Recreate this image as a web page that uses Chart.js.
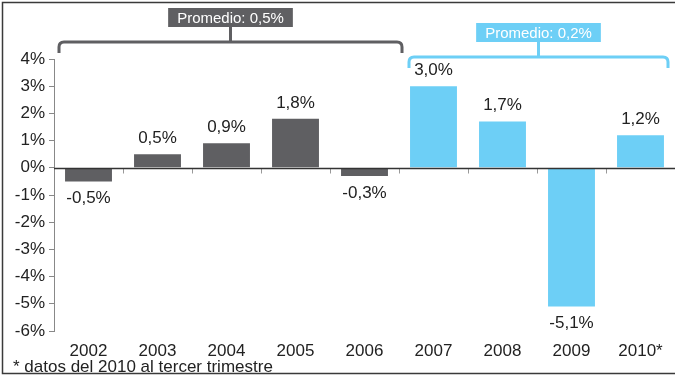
<!DOCTYPE html>
<html>
<head>
<meta charset="utf-8">
<script src="https://cdn.jsdelivr.net/npm/chart.js@4"></script>
<style>
  html, body { margin: 0; padding: 0; background: #fff; }
  #wrap { position: relative; width: 675px; height: 377px; }
</style>
</head>
<body>
<div id="wrap"><canvas id="myChart" width="675" height="377"></canvas></div>
<script>
const years = ["2002", "2003", "2004", "2005", "2006", "2007", "2008", "2009", "2010*"];
const growth = [-0.5, 0.5, 0.9, 1.8, -0.3, 3.0, 1.7, -5.1, 1.2];
const barColors = ["#5f5f62", "#5f5f62", "#5f5f62", "#5f5f62", "#5f5f62",
                   "#6dcff6", "#6dcff6", "#6dcff6", "#6dcff6"];
const averages = [
  { text: "Promedio: 0,5%", from: 0, to: 4, color: "#5f5f62" },
  { text: "Promedio: 0,2%", from: 5, to: 8, color: "#6dcff6" }
];
const footnote = "* datos del 2010 al tercer trimestre";

const FONT = "Liberation Sans, Arial, sans-serif";
const fmt = v => v.toFixed(1).replace(".", ",") + "%";

// frame, zero line with its little ticks, and the footnote
const framePlugin = {
  id: "frame",
  beforeDraw(chart) {
    const ctx = chart.ctx;
    ctx.save();
    ctx.strokeStyle = "#3a3a3a";
    ctx.lineWidth = 1.5;
    ctx.beginPath();
    ctx.moveTo(675, 2.5); ctx.lineTo(2.5, 2.5); ctx.lineTo(2.5, 373.5); ctx.lineTo(675, 373.5);
    ctx.stroke();
    ctx.restore();
  },
  afterDatasetsDraw(chart) {
    const ctx = chart.ctx;
    const x = chart.scales.x, y = chart.scales.y;
    const y0 = Math.round(y.getPixelForValue(0)) + 0.5;
    ctx.save();
    ctx.strokeStyle = "#999";
    ctx.lineWidth = 1;
    for (let i = 1; i < years.length; i++) {
      const bx = Math.round((x.getPixelForValue(i - 1) + x.getPixelForValue(i)) / 2) + 0.5;
      ctx.beginPath(); ctx.moveTo(bx, y0); ctx.lineTo(bx, y0 + 5); ctx.stroke();
    }
    ctx.strokeStyle = "#333";
    ctx.lineWidth = 1.5;
    ctx.beginPath(); ctx.moveTo(chart.chartArea.left, y0); ctx.lineTo(675, y0); ctx.stroke();

    ctx.fillStyle = "#222";
    ctx.font = "17px " + FONT;
    ctx.textBaseline = "alphabetic";
    ctx.textAlign = "left";
    ctx.fillText(footnote, 13, 372);
    ctx.restore();
  }
};

// value labels above / below each bar
const valueLabels = {
  id: "valueLabels",
  afterDatasetsDraw(chart) {
    const ctx = chart.ctx;
    const meta = chart.getDatasetMeta(0);
    ctx.save();
    ctx.fillStyle = "#222";
    ctx.font = "17px " + FONT;
    ctx.textAlign = "center";
    ctx.textBaseline = "middle";
    meta.data.forEach((bar, i) => {
      const v = growth[i];
      const ty = v >= 0 ? bar.y - 16 : bar.y + 17;
      ctx.fillText(fmt(v), bar.x, ty);
    });
    ctx.restore();
  }
};

// brackets with the average boxes on top
const brackets = {
  id: "brackets",
  afterDraw(chart) {
    const ctx = chart.ctx;
    const x = chart.scales.x;
    const step = x.getPixelForValue(1) - x.getPixelForValue(0);
    const tops = [42, 57];
    ctx.save();
    averages.forEach((g, k) => {
      const left = x.getPixelForValue(g.from) - step / 2 + (k === 0 ? 5 : 10);
      const right = x.getPixelForValue(g.to) + step / 2 + (k === 0 ? 3 : -7);
      const hy = tops[k];
      const mid = (left + right) / 2;
      const r = 5;
      ctx.strokeStyle = g.color;
      ctx.lineWidth = 3;
      ctx.lineJoin = "round";
      ctx.beginPath();
      ctx.moveTo(left, hy + 11);
      ctx.lineTo(left, hy + r);
      ctx.quadraticCurveTo(left, hy, left + r, hy);
      ctx.lineTo(right - r, hy);
      ctx.quadraticCurveTo(right, hy, right, hy + r);
      ctx.lineTo(right, hy + 11);
      ctx.stroke();
      ctx.beginPath();
      ctx.moveTo(mid, hy); ctx.lineTo(mid, hy - 15);
      ctx.stroke();

      ctx.font = "15px " + FONT;
      const w = ctx.measureText(g.text).width + 18;
      const bh = 19;
      ctx.fillStyle = g.color;
      ctx.fillRect(mid - w / 2, hy - 15 - bh, w, bh);
      ctx.fillStyle = "#fff";
      ctx.textAlign = "center";
      ctx.textBaseline = "middle";
      ctx.fillText(g.text, mid, hy - 15 - bh / 2 + 1);
    });
    ctx.restore();
  }
};

new Chart(document.getElementById("myChart"), {
  type: "bar",
  data: {
    labels: years,
    datasets: [{
      data: growth,
      backgroundColor: barColors,
      borderWidth: 0,
      barPercentage: 0.68,
      categoryPercentage: 1
    }]
  },
  options: {
    responsive: false,
    animation: false,
    layout: { padding: { top: 59, right: -2, bottom: 0, left: 0 } },
    plugins: { legend: { display: false }, tooltip: { enabled: false } },
    scales: {
      x: {
        offset: true,
        grid: { display: false, drawTicks: false },
        border: { display: false },
        ticks: { color: "#222", font: { family: FONT, size: 17 }, padding: 10, maxRotation: 0 },
        afterFit: s => { s.height = 46; }
      },
      y: {
        min: -6,
        max: 4,
        ticks: {
          stepSize: 1,
          color: "#222",
          font: { family: FONT, size: 17 },
          padding: 4,
          callback: v => v + "%"
        },
        grid: { drawOnChartArea: false, drawTicks: true, tickLength: 5, color: "#888" },
        border: { display: true, color: "#888", width: 1 },
        afterFit: s => { s.width = 54; }
      }
    }
  },
  plugins: [framePlugin, valueLabels, brackets]
});
</script>
</body>
</html>
